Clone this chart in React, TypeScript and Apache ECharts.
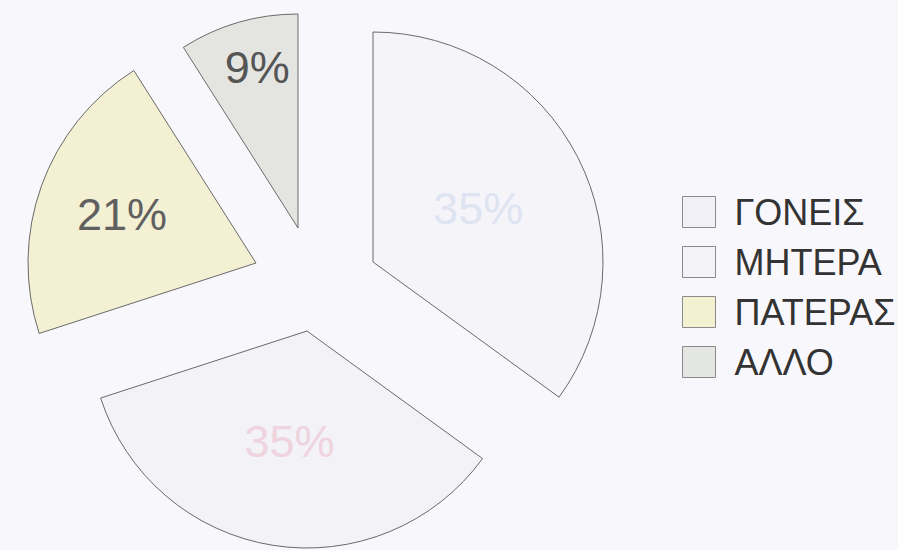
import React, { useEffect, useRef } from "react";
import * as echarts from "echarts";

const categories = ["ΓΟΝΕΙΣ", "ΜΗΤΕΡΑ", "ΠΑΤΕΡΑΣ", "ΑΛΛΟ"];
const values = [35, 35, 21, 9];

// styles (exploded pie: each slice drawn by its own pie series, pulled out to its own place)
const sliceColors = ["#f4f4f9", "#f2f2f7", "#f3f0d3", "#e4e5e1"];
const labelColors = ["#dfe4f3", "#f0d4dd", "#606060", "#555555"];
const legendColors = ["#f1f1f7", "#f3f3f7", "#f2f2d2", "#e4e6e2"];
const sliceCenters = [
  [373, 262],
  [307, 331],
  [256, 263],
  [298, 228],
];
const sliceRadii = [230, 217, 228, 214];
const labelShift = [
  [0, 0],
  [0, 0],
  [-24, -9],
  [-10, -55],
];

export default function App() {
  const ref = useRef<HTMLDivElement>(null);
  useEffect(() => {
    const chart = echarts.init(ref.current!, null, { renderer: "svg" });
    const series = categories.map((_, k) => ({
      type: "pie",
      center: sliceCenters[k],
      radius: sliceRadii[k],
      startAngle: 90,
      clockwise: true,
      silent: true,
      avoidLabelOverlap: false,
      emphasis: { disabled: true },
      labelLine: { show: false },
      label: {
        position: "inside",
        formatter: "{c}%",
        fontSize: 45,
        fontFamily: "Liberation Sans",
        fontWeight: "normal",
      },
      labelLayout: () => ({ dx: labelShift[k][0], dy: labelShift[k][1] }),
      data: categories.map((name, i) => ({
        name,
        value: values[i],
        itemStyle:
          i === k
            ? { color: sliceColors[i], borderColor: "#6a6a6a", borderWidth: 1 }
            : { color: "rgba(0,0,0,0)", borderWidth: 0 },
        label: i === k ? { show: true, color: labelColors[i] } : { show: false },
      })),
    }));
    chart.setOption({
      animation: false,
      backgroundColor: "#f8f8fc",
      legend: {
        orient: "vertical",
        left: 677,
        top: 189,
        itemWidth: 33,
        itemHeight: 31,
        itemGap: 14,
        icon: "rect",
        selectedMode: false,
        textStyle: {
          fontSize: 36,
          color: "#333",
          fontFamily: "Liberation Sans",
          padding: [0, 0, 0, 14],
        },
        data: categories.map((name, i) => ({
          name,
          itemStyle: { color: legendColors[i], borderColor: "#8a8a8a", borderWidth: 1 },
        })),
      },
      series,
    });
    return () => chart.dispose();
  }, []);
  return (
    <div
      ref={ref}
      style={{ position: "absolute", left: 0, top: 0, width: 898, height: 550 }}
    />
  );
}
